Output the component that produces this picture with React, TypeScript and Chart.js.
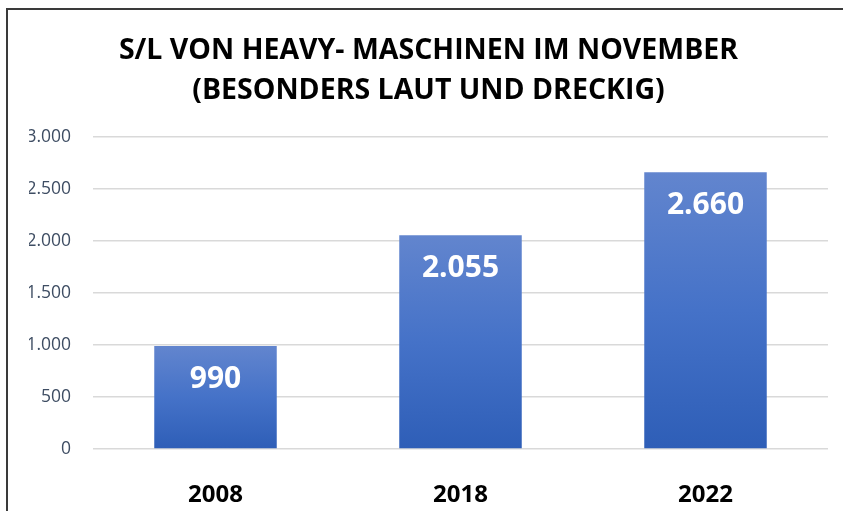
import { useEffect, useRef } from "react";
import { Chart, registerables } from "chart.js";

Chart.register(...registerables);

const categories = ["2008", "2018", "2022"];
const values = [990, 2055, 2660];
const yMin = 0;
const yMax = 3000;
const yStep = 500;
const titleLines = ["S/L VON HEAVY- MASCHINEN IM NOVEMBER", "(BESONDERS LAUT UND DRECKIG)"];

const fmt = (v: number) => String(v).replace(/\B(?=(\d{3})+(?!\d))/g, ".");

const FONT = "'Open Sans', 'Liberation Sans', sans-serif";

const labelPlugin = {
  id: "barLabels",
  afterDatasetsDraw(chart: any) {
    const ctx = chart.ctx;
    const meta = chart.getDatasetMeta(0);
    ctx.save();
    ctx.fillStyle = "#ffffff";
    ctx.font = `bold 30px ${FONT}`;
    ctx.textAlign = "center";
    ctx.textBaseline = "middle";
    meta.data.forEach((bar: any, i: number) => {
      ctx.fillText(fmt(values[i]), bar.x, bar.y + 33);
    });
    ctx.restore();
  },
};

export default function App() {
  const ref = useRef<HTMLCanvasElement | null>(null);
  useEffect(() => {
    if (!ref.current) return;
    const chart = new Chart(ref.current, {
      type: "bar",
      data: {
        labels: categories,
        datasets: [
          {
            data: values,
            barPercentage: 0.5,
            categoryPercentage: 1,
            backgroundColor: (c: any) => {
              const ch = c.chart;
              const ys = ch.scales && ch.scales.y;
              if (!ys || c.parsed == null) return "#4472C4";
              const top = ys.getPixelForValue(c.parsed.y);
              const bottom = ys.getPixelForValue(0);
              if (!isFinite(top) || !isFinite(bottom) || top === bottom) return "#4472C4";
              const g = ch.ctx.createLinearGradient(0, top, 0, bottom);
              g.addColorStop(0, "#6285CE");
              g.addColorStop(0.5, "#4572C8");
              g.addColorStop(1, "#2E5EB7");
              return g;
            },
            borderWidth: 0,
          },
        ],
      },
      options: {
        animation: false,
        responsive: false,
        maintainAspectRatio: false,
        layout: { padding: { left: 21, right: 15, top: 0, bottom: 0 } },
        plugins: {
          legend: { display: false },
          tooltip: { enabled: false },
          title: {
            display: true,
            text: titleLines,
            color: "#000000",
            font: { family: FONT, size: 28.5, weight: "bold", lineHeight: 40 / 28.5 },
            padding: { top: 21, bottom: 26 },
          },
        },
        scales: {
          x: {
            grid: { display: false },
            border: { display: false },
            ticks: {
              color: "#000000",
              font: { family: FONT, size: 24, weight: "bold" },
              padding: 24,
            },
            afterFit: (s: any) => {
              s.height = 62;
            },
          },
          y: {
            min: yMin,
            max: yMax,
            grid: { color: "#D9D9D9", lineWidth: 1.5, drawTicks: false },
            border: { display: false },
            ticks: {
              stepSize: yStep,
              color: "#3E4D63",
              font: { family: FONT, size: 17.5 },
              padding: 22,
              callback: (v: any) => fmt(Number(v)),
            },
            afterFit: (s: any) => {
              s.width = 64;
            },
          },
        },
      },
      plugins: [labelPlugin],
    });
    return () => chart.destroy();
  }, []);

  return (
    <div
      style={{
        position: "absolute",
        left: 6,
        top: 8,
        width: 837,
        height: 503,
        borderLeft: "2px solid #3a3a3a",
        borderTop: "2px solid #3a3a3a",
        background: "#ffffff",
      }}
    >
      <canvas ref={ref} width={835} height={501} style={{ display: "block" }} />
    </div>
  );
}
